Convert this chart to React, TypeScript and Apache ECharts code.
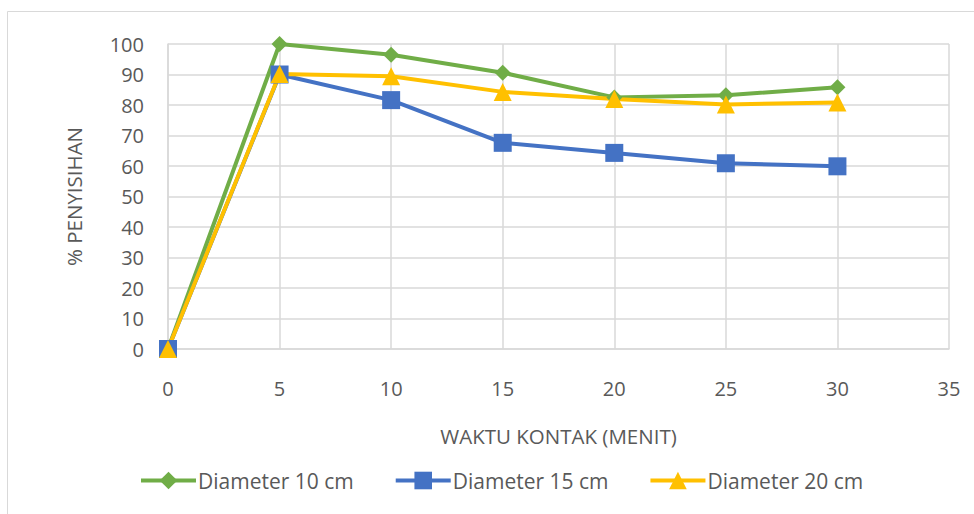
import React, { useEffect, useRef } from "react";
import * as echarts from "echarts";

const waktu = [0, 5, 10, 15, 20, 25, 30];
const diameter10 = [0, 100, 96.5, 90.6, 82.5, 83.2, 85.8];
const diameter15 = [0, 90, 81.6, 67.6, 64.3, 60.9, 59.9];
const diameter20 = [0, 90.2, 89.4, 84.3, 82.0, 80.2, 80.8];
const seriesNames = ["Diameter 10 cm", "Diameter 15 cm", "Diameter 20 cm"];
const xTitle = "WAKTU KONTAK (MENIT)";
const yTitle = "% PENYISIHAN";

const FONT = "'Open Sans', 'Noto Sans', sans-serif";
const TXT = "#595959";
const GRID = "#d9d9d9";

export default function App() {
  const ref = useRef<HTMLDivElement>(null);
  useEffect(() => {
    if (!ref.current) return;
    const chart = echarts.init(ref.current, null, { renderer: "svg" });
    const pair = (ys: number[]) => waktu.map((x, i) => [x, ys[i]]);
    const mk = (name: string, data: number[], color: string, symbol: string, size: number) => ({
      name,
      type: "line",
      data: pair(data),
      symbol,
      symbolSize: size,
      showAllSymbol: true,
      lineStyle: { color, width: 4 },
      itemStyle: { color, borderWidth: 0 },
      emphasis: { disabled: true },
    });
    chart.setOption({
      animation: false,
      backgroundColor: "#ffffff",
      textStyle: { fontFamily: FONT },
      graphic: [
        {
          type: "rect",
          shape: { x: 7.5, y: 11.5, width: 1000, height: 600 },
          style: { fill: "none", stroke: GRID, lineWidth: 1 },
          silent: true,
          z: -10,
        },
      ],
      grid: { left: 168, right: 25, top: 44, bottom: 165, containLabel: false },
      legend: {
        data: seriesNames,
        top: 465,
        left: 134,
        itemWidth: 55,
        itemHeight: 22,
        itemGap: 40,
        lineStyle: { width: 4 },
        textStyle: { fontFamily: FONT, fontSize: 21, color: TXT, padding: [0, 0, 0, -3] },
        selectedMode: false,
      },
      xAxis: {
        type: "value",
        min: 0,
        max: 35,
        interval: 5,
        name: xTitle,
        nameLocation: "middle",
        nameGap: 76,
        nameTextStyle: { fontFamily: FONT, fontSize: 20.5, color: TXT },
        axisLine: { show: true, lineStyle: { color: GRID, width: 1.5 } },
        axisTick: { show: false },
        axisLabel: { fontFamily: FONT, fontSize: 20, color: TXT, margin: 29 },
        splitLine: { show: true, lineStyle: { color: GRID, width: 1.5 } },
      },
      yAxis: {
        type: "value",
        min: 0,
        max: 100,
        interval: 10,
        name: yTitle,
        nameLocation: "middle",
        nameGap: 84,
        nameTextStyle: { fontFamily: FONT, fontSize: 20.5, color: TXT },
        axisLine: { show: true, lineStyle: { color: GRID, width: 1.5 } },
        axisTick: { show: false },
        axisLabel: { fontFamily: FONT, fontSize: 20, color: TXT, margin: 24 },
        splitLine: { show: true, lineStyle: { color: GRID, width: 1.5 } },
      },
      series: [
        mk(seriesNames[0], diameter10, "#70ad47", "diamond", 16),
        mk(seriesNames[1], diameter15, "#4472c4", "rect", 18),
        mk(seriesNames[2], diameter20, "#ffc000", "triangle", 18),
      ],
    });
    return () => chart.dispose();
  }, []);
  return (
    <div
      ref={ref}
      style={{ position: "absolute", left: 0, top: 0, width: 974, height: 514 }}
    />
  );
}
